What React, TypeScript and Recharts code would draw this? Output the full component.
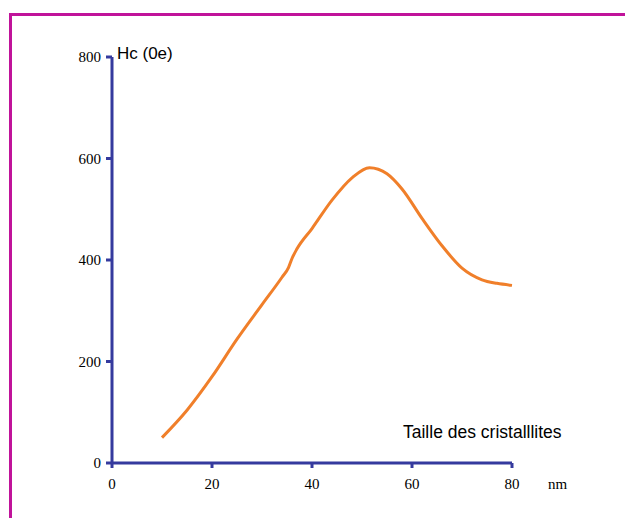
import { Line, LineChart, XAxis, YAxis } from "recharts";

const sizes = [10, 15, 20, 25, 30, 34, 35.3, 36, 37, 40, 44, 48, 51.5, 55, 58, 62, 66, 70, 74, 77, 80];
const hc = [50, 104, 170, 244, 312, 366, 385, 403, 422, 462, 518, 562, 582, 570, 540, 482, 428, 384, 361, 354, 350];
const xTicks = [0, 20, 40, 60, 80];
const yTicks = [0, 200, 400, 600, 800];

const data = sizes.map((s, i) => ({ size: s, hc: hc[i] }));

const axisBlue = "#353a9e";
const serif = "'Liberation Serif', 'Times New Roman', serif";
const sans = "'Liberation Sans', Arial, sans-serif";

export default function App() {
  return (
    <div style={{ position: "absolute", left: 0, top: 0, width: 625, height: 518, background: "#fff" }}>
      <div
        style={{
          position: "absolute",
          left: 9,
          top: 13,
          width: 613,
          height: 505,
          borderTop: "3px solid #c0139a",
          borderLeft: "3px solid #c0139a",
        }}
      />
      <LineChart width={625} height={518} data={data} margin={{ top: 57, right: 113, bottom: 0, left: 0 }}>
        <XAxis
          dataKey="size"
          type="number"
          domain={[0, 80]}
          ticks={xTicks}
          height={55}
          stroke={axisBlue}
          strokeWidth={3}
          tickSize={5}
          tickMargin={10}
          tick={{ fill: "#000", fontFamily: serif, fontSize: 15 }}
        />
        <YAxis
          type="number"
          domain={[0, 800]}
          ticks={yTicks}
          width={112}
          stroke={axisBlue}
          strokeWidth={3}
          tickSize={6}
          tickMargin={5}
          tick={{ fill: "#000", fontFamily: serif, fontSize: 15 }}
        />
        <Line
          type="monotone"
          dataKey="hc"
          stroke="#f07f2a"
          strokeWidth={3}
          dot={false}
          isAnimationActive={false}
        />
      </LineChart>
      <span style={{ position: "absolute", left: 117, top: 44, fontFamily: sans, fontSize: 17, color: "#000" }}>
        Hc (0e)
      </span>
      <span style={{ position: "absolute", left: 403, top: 422, fontFamily: sans, fontSize: 17.5, color: "#000" }}>
        Taille des cristalllites
      </span>
      <span style={{ position: "absolute", left: 548, top: 476, fontFamily: serif, fontSize: 15, color: "#000" }}>
        nm
      </span>
    </div>
  );
}
